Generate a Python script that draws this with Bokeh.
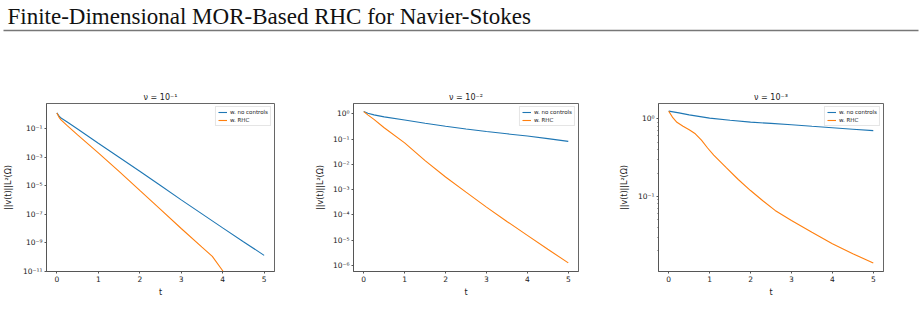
from bokeh.plotting import figure
from bokeh.layouts import column, row
from bokeh.models import Range1d, FixedTicker, CustomJSTickFormatter, Legend, LegendItem
from bokeh.embed import file_html
from bokeh.resources import INLINE
from bokeh.core.properties import value

# ---------------- data ----------------
HEADER = "Finite-Dimensional MOR-Based RHC for Navier-Stokes"
TITLES = ["ν = 10⁻¹", "ν = 10⁻²", "ν = 10⁻³"]
LEGEND_LABELS = ["w. no controls", "w. RHC"]
X_LABEL = "t"
Y_LABEL = "||v(t)||L²(Ω)"
X_TICKS = [0, 1, 2, 3, 4, 5]

# nu = 1e-1
t1_free = [0, 0.05, 0.1, 0.25, 0.5, 1.0, 1.5, 2.0, 2.5, 3.0, 3.5, 4.0, 4.5, 5.0]
v1_free = [1.23, 0.759, 0.537, 0.282, 9.33e-2, 9.33e-3, 9.77e-4, 1.02e-4, 1.02e-5,
           1.02e-6, 1.07e-7, 1.12e-8, 1.20e-9, 1.35e-10]
t1_rhc = [0, 0.05, 0.1, 0.25, 0.5, 1.0, 1.5, 2.0, 2.5, 3.0, 3.5, 3.75, 4.0, 4.05]
v1_rhc = [1.23, 0.631, 0.398, 0.158, 3.55e-2, 2.0e-3, 1.0e-4, 4.68e-6, 2.24e-7,
          1.02e-8, 5.01e-10, 1.15e-10, 1.12e-11, 6.3e-12]

# nu = 1e-2
t2_free = [0, 0.1, 0.25, 0.5, 1.0, 1.5, 2.0, 2.5, 3.0, 3.5, 4.0, 4.5, 5.0]
v2_free = [1.23, 1.05, 0.912, 0.759, 0.575, 0.427, 0.324, 0.251, 0.200, 0.162,
           0.132, 0.105, 0.0813]
t2_rhc = [0, 0.1, 0.25, 0.5, 1.0, 1.5, 2.0, 2.5, 3.0, 3.5, 4.0, 4.5, 5.0]
v2_rhc = [1.23, 0.912, 0.603, 0.282, 0.0708, 0.0141, 3.16e-3, 7.94e-4, 2.04e-4,
          5.5e-5, 1.55e-5, 4.37e-6, 1.26e-6]

# nu = 1e-3
t3_free = [0, 0.25, 0.5, 1.0, 1.5, 2.0, 2.5, 3.0, 3.5, 4.0, 4.5, 5.0]
v3_free = [1.253, 1.189, 1.122, 1.019, 0.955, 0.904, 0.871, 0.838, 0.800, 0.766,
           0.733, 0.702]
t3_rhc = [0, 0.1, 0.2, 0.35, 0.5, 0.65, 0.8, 0.95, 1.1, 1.4, 1.7, 2.0, 2.3, 2.6,
          3.0, 3.5, 4.0, 4.5, 5.0]
v3_rhc = [1.253, 1.03, 0.90, 0.80, 0.72, 0.64, 0.53, 0.42, 0.34, 0.236, 0.165,
          0.119, 0.088, 0.066, 0.049, 0.0345, 0.0246, 0.0183, 0.0139]

Y_MAJOR = [
    [1e-1, 1e-3, 1e-5, 1e-7, 1e-9, 1e-11],
    [1e0, 1e-1, 1e-2, 1e-3, 1e-4, 1e-5, 1e-6],
    [1e0, 1e-1],
]
Y_MINOR = [
    [],
    [],
    [2e-2, 3e-2, 4e-2, 5e-2, 6e-2, 7e-2, 8e-2, 9e-2,
     2e-1, 3e-1, 4e-1, 5e-1, 6e-1, 7e-1, 8e-1, 9e-1],
]
Y_RANGES = [(1e-11, 5.6), (5.75e-7, 2.57), (0.0108, 1.57)]

BLUE = "#1f77b4"
ORANGE = "#ff7f0e"
TXT = "#222222"
FONT = "DejaVu Sans"

# ---------------- header ----------------
hdr = figure(width=921, height=80, x_range=Range1d(0, 921), y_range=Range1d(80, 0),
             x_axis_type=None, y_axis_type=None, toolbar_location=None,
             output_backend="svg", min_border=0, outline_line_color=None)
hdr.text(x=[7], y=[16], text=[HEADER], text_font=value("Liberation Serif"),
         text_font_size="23px", text_baseline="alphabetic", text_color="#111111")
hdr.segment(x0=[3], y0=[30], x1=[918], y1=[30], line_color="#777777", line_width=1.6)

sup_js = """
const sup = {"-":"\u207b","0":"\u2070","1":"\u00b9","2":"\u00b2","3":"\u00b3","4":"\u2074",
             "5":"\u2075","6":"\u2076","7":"\u2077","8":"\u2078","9":"\u2079"};
const e = Math.round(Math.log10(tick));
return "10" + String(e).split("").map(c => sup[c]).join("");
"""

series = [
    (t1_free, v1_free, t1_rhc, v1_rhc),
    (t2_free, v2_free, t2_rhc, v2_rhc),
    (t3_free, v3_free, t3_rhc, v3_rhc),
]
widths = [312, 304, 305]
left_b = [45, 38, 38]
ylab_standoff = [7, 5, 6]


def panel(i):
    tf, vf, tr, vr = series[i]
    p = figure(width=widths[i], height=240, y_axis_type="log",
               x_range=Range1d(-0.25, 5.25), y_range=Range1d(*Y_RANGES[i]),
               toolbar_location=None, output_backend="svg",
               min_border_left=left_b[i], min_border_right=38,
               min_border_top=23, min_border_bottom=49, title=TITLES[i])
    p.title.text_font = FONT
    p.title.text_font_size = "8px"
    p.title.text_font_style = "normal"
    p.title.text_color = TXT
    p.title.align = "center"
    p.title.standoff = 3
    p.outline_line_color = "#555555"
    p.outline_line_width = 0.9
    p.grid.visible = False
    p.background_fill_color = "white"

    r1 = p.line(tf, vf, line_color=BLUE, line_width=1.1)
    r2 = p.line(tr, vr, line_color=ORANGE, line_width=1.1)

    for ax in (p.xaxis[0], p.yaxis[0]):
        ax.axis_line_color = "#555555"
        ax.axis_line_width = 0.9
        ax.major_tick_line_color = "#555555"
        ax.major_tick_out = 2
        ax.major_tick_in = 0
        ax.minor_tick_out = 1
        ax.minor_tick_in = 0
        ax.major_label_text_font = FONT
        ax.major_label_text_font_size = "7.5px"
        ax.major_label_text_color = TXT
        ax.major_label_standoff = 2
        ax.axis_label_text_font = FONT
        ax.axis_label_text_font_size = "8px"
        ax.axis_label_text_font_style = "normal"
        ax.axis_label_text_color = TXT

    p.xaxis.ticker = FixedTicker(ticks=X_TICKS)
    p.xaxis.minor_tick_line_color = None
    p.xaxis.axis_label = X_LABEL
    p.xaxis.axis_label_standoff = 3

    p.yaxis.ticker = FixedTicker(ticks=Y_MAJOR[i], minor_ticks=Y_MINOR[i])
    p.yaxis.formatter = CustomJSTickFormatter(code=sup_js)
    p.yaxis.minor_tick_line_color = "#555555"
    p.yaxis.axis_label = Y_LABEL
    p.yaxis.axis_label_standoff = ylab_standoff[i]

    leg = Legend(items=[LegendItem(label=LEGEND_LABELS[0], renderers=[r1]),
                        LegendItem(label=LEGEND_LABELS[1], renderers=[r2])],
                 location="top_right")
    leg.margin = 3
    leg.padding = 2
    leg.spacing = 2
    leg.glyph_width = 9
    leg.glyph_height = 6
    leg.label_height = 6
    leg.label_standoff = 3
    leg.label_text_font = FONT
    leg.label_text_font_size = "5.5px"
    leg.label_text_color = TXT
    leg.border_line_color = "#cccccc"
    leg.border_line_width = 0.8
    leg.background_fill_alpha = 0.8
    p.add_layout(leg)
    return p


panels = [panel(i) for i in range(3)]
layout = column(hdr, row(*panels, spacing=0), spacing=0)

open("out.html", "w").write(file_html(layout, INLINE))
